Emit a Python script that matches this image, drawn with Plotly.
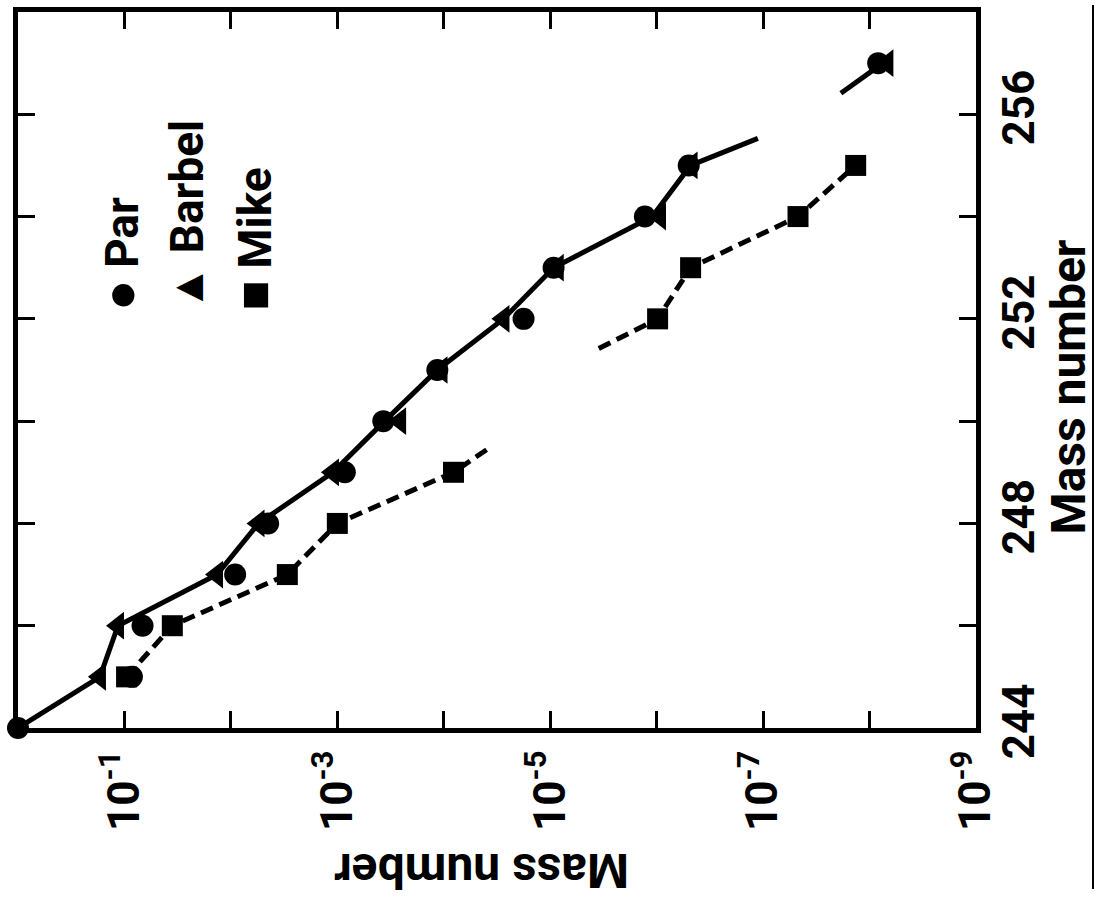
import plotly.graph_objects as go

# ---------------- data ----------------
par_mass = [244, 245, 246, 247, 248, 249, 250, 251, 252, 253, 254, 255, 257]
par_vals = [1.0, 0.0851, 0.0676, 0.00912, 0.00447, 8.5e-4, 3.7e-4, 1.15e-4,
            1.78e-5, 9.3e-6, 1.29e-6, 5.0e-7, 8.3e-9]

barbel_mass = [245, 246, 247, 248, 249, 250, 251, 252, 253, 254, 255, 257]
barbel_vals = [0.170, 0.115, 0.0135, 0.0055, 1.1e-3, 2.57e-4, 1.05e-4,
               2.75e-5, 8.5e-6, 9.3e-7, 4.7e-7, 6.8e-9]

mike_mass = [245, 246, 247, 248, 249, 252, 253, 254, 255]
mike_vals = [0.0955, 0.0355, 2.95e-3, 1.0e-3, 8.1e-5, 9.8e-7, 4.8e-7, 4.7e-8, 1.35e-8]

# solid connecting line (with broken stretch near 256)
solid_mass = [244, 245, 246, 247, 248, 249, 250, 251, 252, 253, 254, 255, 255.53,
              None, 256.41, 257]
solid_vals = [1.0, 0.170, 0.115, 0.0135, 0.0055, 1.1e-3, 3.6e-4, 1.15e-4, 2.75e-5,
              9.3e-6, 1.1e-6, 4.8e-7, 1.12e-7, None, 1.86e-8, 7.5e-9]

# dashed connecting line for Mike (broken between 249 and 252)
dash_mass = [245, 246, 247, 248, 249, 249.5, None, 251.42, 252, 253, 254, 255]
dash_vals = [0.0955, 0.0355, 2.95e-3, 1.0e-3, 8.1e-5, 3.6e-5, None, 3.5e-6,
             9.8e-7, 4.8e-7, 4.7e-8, 1.35e-8]

x_tickvals = [1e0, 1e-1, 1e-2, 1e-3, 1e-4, 1e-5, 1e-6, 1e-7, 1e-8, 1e-9]
x_ticktext = ["", "10<sup>-1</sup>", "", "10<sup>-3</sup>", "", "10<sup>-5</sup>",
              "", "10<sup>-7</sup>", "", "10<sup>-9</sup>"]
y_tickvals = [244, 246, 248, 250, 252, 254, 256, 258]
y_ticktext = ["244", "", "248", "", "252", "", "256", ""]

legend_names = ["Par", "Barbel", "Mike"]
legend_glyphs = ["\u25CF", "\u25B2", "\u25A0"]
legend_glyph_sizes = [52, 46, 50]

# ---------------- figure ----------------
W, H = 1098, 903
ML, MR, MT, MB = 18, 122, 7, 175
PW, PH = W - ML - MR, H - MT - MB
FONT = "Roboto, Liberation Sans, Arial, sans-serif"


def px_x(px):
    return (px - ML) / PW


def px_y(py):
    return (H - MB - py) / PH


fig = go.Figure()

fig.add_trace(go.Scatter(x=solid_vals, y=solid_mass, mode="lines",
                         line=dict(color="black", width=5), cliponaxis=False,
                         connectgaps=False, showlegend=False, hoverinfo="skip"))
fig.add_trace(go.Scatter(x=dash_vals, y=dash_mass, mode="lines",
                         line=dict(color="black", width=5, dash="13px,7px"),
                         connectgaps=False, showlegend=False, hoverinfo="skip"))
fig.add_trace(go.Scatter(x=mike_vals, y=mike_mass, mode="markers", name="Mike",
                         marker=dict(symbol="square", size=21, color="black"),
                         showlegend=False))
fig.add_trace(go.Scatter(x=barbel_vals, y=barbel_mass, mode="markers", name="Barbel",
                         marker=dict(symbol="triangle-left", size=24, color="black"),
                         showlegend=False))
fig.add_trace(go.Scatter(x=par_vals, y=par_mass, mode="markers", name="Par",
                         marker=dict(symbol="circle", size=22, color="black"),
                         cliponaxis=False, showlegend=False))

tickfont = dict(family=FONT, size=44, color="black", weight="bold")
fig.update_xaxes(type="log", range=[0, -9], tickvals=x_tickvals, ticktext=x_ticktext,
                 tickangle=-90, ticks="inside", ticklen=17, tickwidth=3,
                 tickcolor="black", showline=True, linewidth=5, linecolor="black",
                 mirror="ticks", showgrid=False, zeroline=False, tickfont=tickfont)
fig.update_yaxes(range=[244, 258], tickvals=y_tickvals, ticktext=y_ticktext,
                 side="right", tickangle=-90, ticks="inside", ticklen=17, tickwidth=3,
                 tickcolor="black", showline=True, linewidth=5, linecolor="black",
                 mirror="ticks", showgrid=False, zeroline=False, tickfont=tickfont)

annotations = []
titlefont = dict(family=FONT, size=48, color="black", weight="bold")
# axis titles (one upside down as in the scan)
annotations.append(dict(text="Mass number", xref="paper", yref="paper",
                        x=px_x(482), y=px_y(872), xanchor="center", yanchor="middle",
                        textangle=180, showarrow=False, font=titlefont))
annotations.append(dict(text="Mass number", xref="paper", yref="paper",
                        x=px_x(1068), y=px_y(385), xanchor="center", yanchor="middle",
                        textangle=-90, showarrow=False, font=titlefont))
# legend (rotated)
leg_x = [121, 187, 254]
for name, glyph, gs, lx in zip(legend_names, legend_glyphs, legend_glyph_sizes, leg_x):
    annotations.append(dict(text=f"<span style='font-size:{gs}px'>{glyph}</span> {name}",
                            xref="paper", yref="paper", x=px_x(lx), y=px_y(310),
                            xanchor="center", yanchor="bottom", textangle=-90,
                            showarrow=False,
                            font=dict(family=FONT, size=46, color="black", weight="bold")))

fig.update_layout(width=W, height=H, margin=dict(l=ML, r=MR, t=MT, b=MB),
                  paper_bgcolor="white", plot_bgcolor="white",
                  annotations=annotations, showlegend=False,
                  shapes=[dict(type="line", xref="paper", yref="paper",
                               x0=px_x(1093), x1=px_x(1093), y0=px_y(0), y1=px_y(890),
                               line=dict(color="black", width=2))])

fig.write_html("out.html")
